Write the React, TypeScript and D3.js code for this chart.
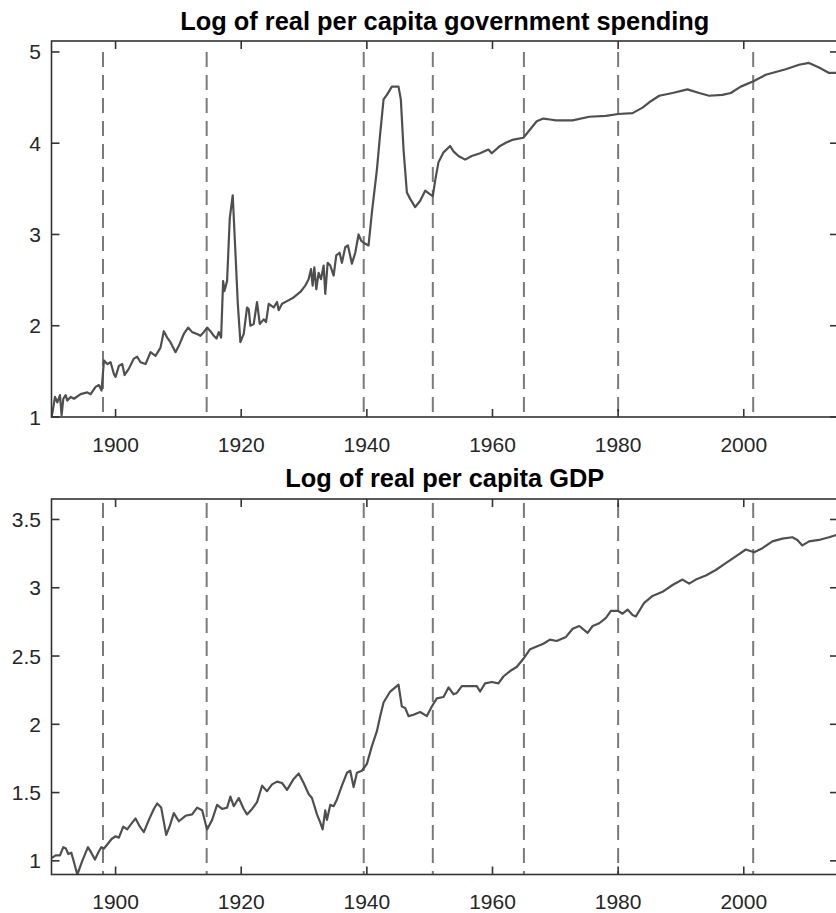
import React from 'react';
import * as d3 from 'd3';

// ---------- DATA ----------
const govYears = [
  1889.8, 1889.93, 1890.36, 1890.73, 1891.15, 1891.41, 1891.68, 1892.05, 1892.32, 1892.85, 1893.38, 1894.44,
  1895.5, 1896.03, 1896.82, 1897.35, 1897.77, 1898.15, 1898.68, 1899.21, 1899.74, 1900.0, 1900.53, 1901.06,
  1901.43, 1902.12, 1902.91, 1903.44, 1903.97, 1904.77, 1905.56, 1906.36, 1907.15, 1907.68, 1908.21, 1908.74,
  1909.54, 1910.07, 1910.86, 1911.55, 1912.19, 1912.98, 1913.51, 1914.04, 1914.57, 1915.1, 1915.63, 1916.06,
  1916.43, 1916.8, 1917.12, 1917.33, 1917.75, 1918.18, 1918.65, 1919.08, 1919.45, 1919.87, 1920.4, 1920.93,
  1921.2, 1921.46, 1921.99, 1922.52, 1922.95, 1923.58, 1923.95, 1924.38, 1925.17, 1925.7, 1925.97, 1926.5,
  1927.29, 1928.35, 1929.41, 1930.2, 1930.73, 1931.11, 1931.37, 1931.64, 1931.95, 1932.32, 1932.7, 1933.12,
  1933.38, 1933.76, 1934.18, 1934.71, 1935.13, 1935.66, 1936.03, 1936.56, 1936.99, 1937.62, 1938.15, 1938.68,
  1939.11, 1939.48, 1940.27, 1940.8, 1941.6, 1942.13, 1942.66, 1943.19, 1943.98, 1945.04, 1945.41, 1945.84,
  1946.37, 1946.9, 1947.69, 1948.49, 1949.28, 1950.08, 1950.5, 1950.87, 1951.4, 1952.2, 1953.26, 1953.79,
  1954.58, 1955.64, 1956.7, 1958.03, 1959.35, 1959.88, 1961.21, 1962.27, 1963.33, 1964.92, 1965.98, 1967.04,
  1968.1, 1969.15, 1970.11, 1972.76, 1975.41, 1978.06, 1980.02, 1982.3, 1983.89, 1985.21, 1986.54, 1988.66,
  1991.04, 1992.9, 1994.49, 1996.61, 1997.93, 1999.52, 2001.54, 2003.5, 2006.68, 2008.8, 2010.38, 2011.98,
  2013.57, 2015.0,
];
const govValues = [
  1.0, 1.04, 1.22, 1.16, 1.24, 1.02, 1.2, 1.24, 1.18, 1.22, 1.2, 1.25,
  1.27, 1.25, 1.33, 1.35, 1.29, 1.62, 1.58, 1.6, 1.47, 1.44, 1.56, 1.58,
  1.46, 1.53, 1.64, 1.66, 1.6, 1.58, 1.71, 1.67, 1.76, 1.94, 1.87, 1.82,
  1.71, 1.78, 1.91, 1.98, 1.93, 1.91, 1.89, 1.93, 1.98, 1.94, 1.89, 1.86,
  1.93, 1.87, 2.49, 2.38, 2.49, 3.18, 3.43, 2.8, 2.25, 1.82, 1.91, 2.2,
  2.18, 2.0, 2.02, 2.26, 2.02, 2.07, 2.04, 2.24, 2.2, 2.26, 2.17, 2.24,
  2.27, 2.31, 2.37, 2.44, 2.51, 2.62, 2.44, 2.64, 2.4, 2.58, 2.51, 2.66,
  2.35, 2.69, 2.66, 2.55, 2.77, 2.8, 2.69, 2.86, 2.88, 2.68, 2.8, 3.0,
  2.93, 2.91, 2.88, 3.24, 3.71, 4.11, 4.48, 4.53, 4.62, 4.62, 4.48, 3.93,
  3.46, 3.39, 3.3, 3.37, 3.48, 3.44, 3.42, 3.59, 3.79, 3.9, 3.97, 3.91,
  3.86, 3.82, 3.86, 3.89, 3.93, 3.89, 3.97, 4.01, 4.04, 4.06, 4.15, 4.24,
  4.27, 4.26, 4.25, 4.25, 4.29, 4.3, 4.32, 4.33, 4.39, 4.46, 4.52, 4.55,
  4.59, 4.55, 4.52, 4.53, 4.55, 4.62, 4.68, 4.75, 4.81, 4.86, 4.88, 4.83,
  4.77, 4.77,
];

const gdpYears = [
  1889.8, 1890.46, 1891.15, 1891.68, 1892.1, 1892.47, 1892.95, 1893.38, 1893.91, 1894.7, 1895.6, 1896.13,
  1896.71, 1897.35, 1897.72, 1898.15, 1898.68, 1899.36, 1900.0, 1900.53, 1901.22, 1901.85, 1902.65, 1903.18,
  1903.87, 1904.5, 1905.3, 1906.09, 1906.62, 1907.26, 1908.06, 1908.59, 1909.27, 1910.07, 1911.13, 1912.19,
  1912.98, 1913.78, 1914.57, 1915.37, 1916.16, 1916.96, 1917.75, 1918.28, 1918.81, 1919.61, 1920.4, 1920.93,
  1921.73, 1922.52, 1923.32, 1924.11, 1924.91, 1925.7, 1926.5, 1927.29, 1928.35, 1929.15, 1929.94, 1930.73,
  1931.26, 1932.06, 1932.59, 1932.96, 1933.38, 1933.65, 1934.18, 1934.71, 1935.24, 1936.03, 1936.83, 1937.36,
  1937.89, 1938.42, 1939.21, 1940.01, 1940.8, 1941.6, 1942.13, 1942.66, 1943.72, 1945.04, 1945.57, 1946.1,
  1946.63, 1947.43, 1948.49, 1949.55, 1950.34, 1951.14, 1952.2, 1953.0, 1953.79, 1954.32, 1955.11, 1956.44,
  1957.5, 1958.03, 1958.82, 1959.88, 1960.94, 1961.74, 1962.8, 1963.85, 1964.92, 1965.98, 1967.04, 1968.1,
  1969.15, 1970.21, 1971.7, 1972.76, 1973.82, 1975.14, 1975.94, 1977.0, 1978.06, 1978.85, 1980.02, 1980.71,
  1981.5, 1982.3, 1982.83, 1984.15, 1985.48, 1987.07, 1988.66, 1990.25, 1991.31, 1992.37, 1993.96, 1995.55,
  1997.14, 1998.73, 2000.32, 2001.64, 2002.97, 2004.56, 2006.15, 2007.74, 2008.53, 2009.33, 2010.39, 2011.98,
  2013.57, 2015.0,
];
const gdpValues = [
  1.02, 1.04, 1.04, 1.1, 1.09, 1.05, 1.06, 0.99, 0.9, 1.0, 1.1, 1.06,
  1.01, 1.07, 1.1, 1.09, 1.12, 1.16, 1.18, 1.17, 1.25, 1.23, 1.28, 1.31,
  1.25, 1.21, 1.3, 1.38, 1.42, 1.39, 1.19, 1.25, 1.35, 1.29, 1.33, 1.34,
  1.39, 1.37, 1.23, 1.3, 1.41, 1.38, 1.39, 1.47, 1.4, 1.46, 1.38, 1.34,
  1.38, 1.43, 1.55, 1.51, 1.56, 1.58, 1.57, 1.52, 1.6, 1.64, 1.57, 1.49,
  1.46, 1.34, 1.28, 1.23, 1.37, 1.3, 1.41, 1.4, 1.45, 1.55, 1.645, 1.66,
  1.54, 1.645, 1.66, 1.71, 1.84, 1.95, 2.06, 2.16, 2.24, 2.29, 2.13, 2.12,
  2.06, 2.07, 2.09, 2.06, 2.13, 2.19, 2.2, 2.27, 2.22, 2.23, 2.28, 2.28,
  2.28, 2.24, 2.3, 2.31, 2.3, 2.35, 2.39, 2.42, 2.48, 2.55, 2.57, 2.59,
  2.62, 2.61, 2.64, 2.7, 2.72, 2.67, 2.72, 2.74, 2.78, 2.83, 2.83, 2.81,
  2.84, 2.8, 2.79, 2.89, 2.94, 2.97, 3.02, 3.06, 3.03, 3.06, 3.09, 3.13,
  3.18, 3.23, 3.28, 3.26, 3.29, 3.34, 3.36, 3.37, 3.35, 3.31, 3.34, 3.35,
  3.37, 3.39,
];

const eventYears = [1898.0, 1914.5, 1939.5, 1950.5, 1965.0, 1980.0, 2001.5];
const xTicks = [1900, 1920, 1940, 1960, 1980, 2000];
const govTicks = [1, 2, 3, 4, 5];
const gdpTicks = [1, 1.5, 2, 2.5, 3, 3.5];
const titles = ['Log of real per capita government spending', 'Log of real per capita GDP'];

// ---------- LAYOUT ----------
const W = 836;
const H = 913;
const LEFT = 51.5;
const RIGHT = 838;
const FONT = "'Liberation Sans', Arial, Helvetica, sans-serif";

const panels = [
  {
    key: 'gov', title: titles[0], years: govYears, values: govValues, ticks: govTicks,
    yDomain: [1, 5.12], top: 41, bottom: 417, titleY: 30, eventRange: [1, 5],
  },
  {
    key: 'gdp', title: titles[1], years: gdpYears, values: gdpValues, ticks: gdpTicks,
    yDomain: [0.9, 3.65], top: 499, bottom: 874.5, titleY: 487, eventRange: [0.9, 3.62],
  },
];

const x = d3.scaleLinear().domain([1889.8, 2015]).range([LEFT, RIGHT]);

function Panel({ p }: { p: any }) {
  const y = d3.scaleLinear().domain(p.yDomain).range([p.bottom, p.top]);
  const pts: [number, number][] = p.years.map((yr: number, i: number) => [yr, p.values[i]]);
  const line = d3.line<[number, number]>().x(d => x(d[0])).y(d => y(d[1]));
  const clipId = `clip-${p.key}`;
  const tickLen = 8;
  const axisColor = '#333333';
  const textColor = '#262626';
  return (
    <g>
      <defs>
        <clipPath id={clipId}>
          <rect x={LEFT} y={p.top} width={RIGHT - LEFT} height={p.bottom - p.top} />
        </clipPath>
      </defs>
      <text x={(LEFT + RIGHT) / 2} y={p.titleY} textAnchor="middle" fontFamily={FONT}
        fontWeight="bold" fontSize={25.4} fill="#000">{p.title}</text>
      <g clipPath={`url(#${clipId})`}>
        {eventYears.map(e => (
          <line key={e} x1={x(e)} x2={x(e)} y1={y(p.eventRange[1])} y2={y(p.eventRange[0])}
            stroke="#7a7a7a" strokeWidth={2} strokeDasharray="15,8" />
        ))}
        <path d={line(pts) || ''} fill="none" stroke="#4f4f4f" strokeWidth={2.2}
          strokeLinejoin="round" />
      </g>
      {/* box */}
      <rect x={LEFT} y={p.top} width={RIGHT - LEFT} height={p.bottom - p.top} fill="none"
        stroke={axisColor} strokeWidth={1.6} />
      {/* x ticks */}
      {xTicks.map(t => (
        <g key={t}>
          <line x1={x(t)} x2={x(t)} y1={p.bottom} y2={p.bottom - tickLen} stroke={axisColor} strokeWidth={1.6} />
          <line x1={x(t)} x2={x(t)} y1={p.top} y2={p.top + tickLen} stroke={axisColor} strokeWidth={1.6} />
          <text x={x(t)} y={p.bottom + 34.5} textAnchor="middle" fontFamily={FONT} fontSize={21}
            fill={textColor}>{t}</text>
        </g>
      ))}
      {/* y ticks */}
      {p.ticks.map((t: number) => (
        <g key={t}>
          <line x1={LEFT} x2={LEFT + tickLen} y1={y(t)} y2={y(t)} stroke={axisColor} strokeWidth={1.6} />
          <line x1={RIGHT} x2={RIGHT - tickLen} y1={y(t)} y2={y(t)} stroke={axisColor} strokeWidth={1.6} />
          <text x={LEFT - 10.5} y={y(t) + 7.5} textAnchor="end" fontFamily={FONT} fontSize={21}
            fill={textColor}>{String(t)}</text>
        </g>
      ))}
    </g>
  );
}

export default function App() {
  return (
    <svg width={W} height={H} viewBox={`0 0 ${W} ${H}`}
      style={{ position: 'absolute', left: 0, top: 0, background: '#fff' }}>
      <rect x={0} y={0} width={W} height={H} fill="#fff" />
      {panels.map(p => <Panel key={p.key} p={p} />)}
    </svg>
  );
}
